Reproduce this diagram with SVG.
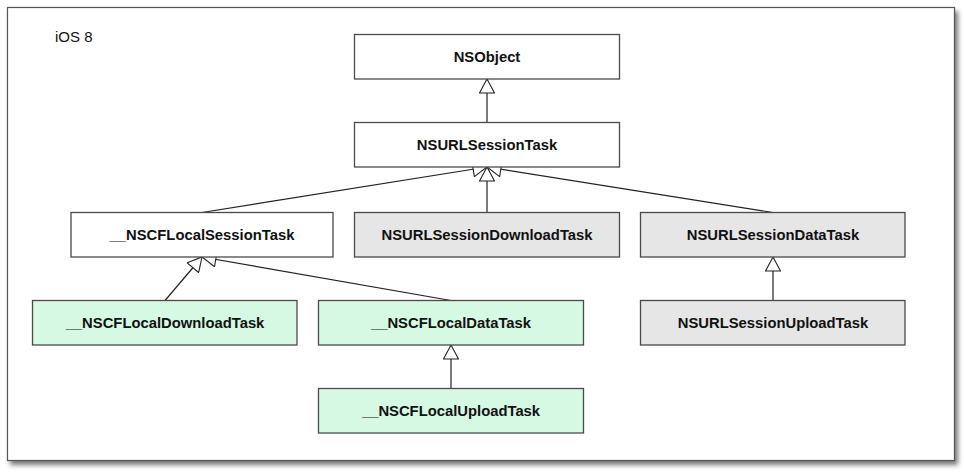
<svg xmlns="http://www.w3.org/2000/svg" width="964" height="472" viewBox="0 0 964 472">
  <style>
    .box { stroke: #4a4a4a; stroke-width: 1.3; }
    .plain { fill: #ffffff; }
    .gray { fill: #e6e6e6; }
    .green { fill: #d6f9e3; }
    .lbl { font-family: "Liberation Sans", Arial, sans-serif; font-weight: bold; font-size: 14.8px; fill: #111; text-anchor: middle; }
    .edge { stroke: #222; stroke-width: 1.2; fill: none; marker-end: url(#tri); }
  </style>
  <defs>
    <marker id="tri" viewBox="0 0 16 16" markerWidth="16" markerHeight="16" refX="15" refY="8" orient="auto" markerUnits="userSpaceOnUse">
      <path d="M1,0.5 L15,8 L1,15.5 Z" fill="#ffffff" stroke="#222" stroke-width="1.1"/>
    </marker>
    <filter id="shadow" x="-5%" y="-5%" width="110%" height="115%">
      <feGaussianBlur stdDeviation="2.5"/>
    </filter>
  </defs>
  <rect width="964" height="472" fill="#ffffff"/>
  <g id="frame">
    <rect x="10" y="11" width="948" height="454" fill="#777" filter="url(#shadow)"/>
    <rect x="7.5" y="7.5" width="947" height="453" fill="#ffffff" stroke="#555" stroke-width="1.2"/>
    <text x="55" y="42" font-family="Liberation Sans, Arial, sans-serif" font-size="15" fill="#111">iOS 8</text>
  </g>
  <g id="connectors">
    <line class="edge" x1="487" y1="122.5" x2="487" y2="79"/>
    <line class="edge" x1="487" y1="212.5" x2="487" y2="167"/>
    <line class="edge" x1="202" y1="212.5" x2="487" y2="167"/>
    <line class="edge" x1="773" y1="212.5" x2="487" y2="167"/>
    <line class="edge" x1="165" y1="300.5" x2="202" y2="257"/>
    <line class="edge" x1="451" y1="300.5" x2="202" y2="257"/>
    <line class="edge" x1="451" y1="388.5" x2="451" y2="345"/>
    <line class="edge" x1="773" y1="300.5" x2="773" y2="257"/>
  </g>
  <g id="NSObject">
    <rect class="box plain" x="354.5" y="34.5" width="265" height="44.5"/>
    <text class="lbl" x="487" y="61.5">NSObject</text>
  </g>
  <g id="NSURLSessionTask">
    <rect class="box plain" x="354.5" y="122.5" width="265" height="44.5"/>
    <text class="lbl" x="487" y="149.5">NSURLSessionTask</text>
  </g>
  <g id="NSCFLocalSessionTask">
    <rect class="box plain" x="71" y="212.5" width="262" height="44.5"/>
    <text class="lbl" x="202" y="239.5">__NSCFLocalSessionTask</text>
  </g>
  <g id="NSURLSessionDownloadTask">
    <rect class="box gray" x="354.5" y="212.5" width="265" height="44.5"/>
    <text class="lbl" x="487" y="239.5">NSURLSessionDownloadTask</text>
  </g>
  <g id="NSURLSessionDataTask">
    <rect class="box gray" x="640.5" y="212.5" width="264.5" height="44.5"/>
    <text class="lbl" x="773" y="239.5">NSURLSessionDataTask</text>
  </g>
  <g id="NSCFLocalDownloadTask">
    <rect class="box green" x="32.5" y="300.5" width="264.5" height="44.5"/>
    <text class="lbl" x="165" y="327.5">__NSCFLocalDownloadTask</text>
  </g>
  <g id="NSCFLocalDataTask">
    <rect class="box green" x="318.5" y="300.5" width="265" height="44.5"/>
    <text class="lbl" x="451" y="327.5">__NSCFLocalDataTask</text>
  </g>
  <g id="NSURLSessionUploadTask">
    <rect class="box gray" x="640.5" y="300.5" width="264.5" height="44.5"/>
    <text class="lbl" x="773" y="327.5">NSURLSessionUploadTask</text>
  </g>
  <g id="NSCFLocalUploadTask">
    <rect class="box green" x="318.5" y="388.5" width="265" height="44.5"/>
    <text class="lbl" x="451" y="415.5">__NSCFLocalUploadTask</text>
  </g>
</svg>
